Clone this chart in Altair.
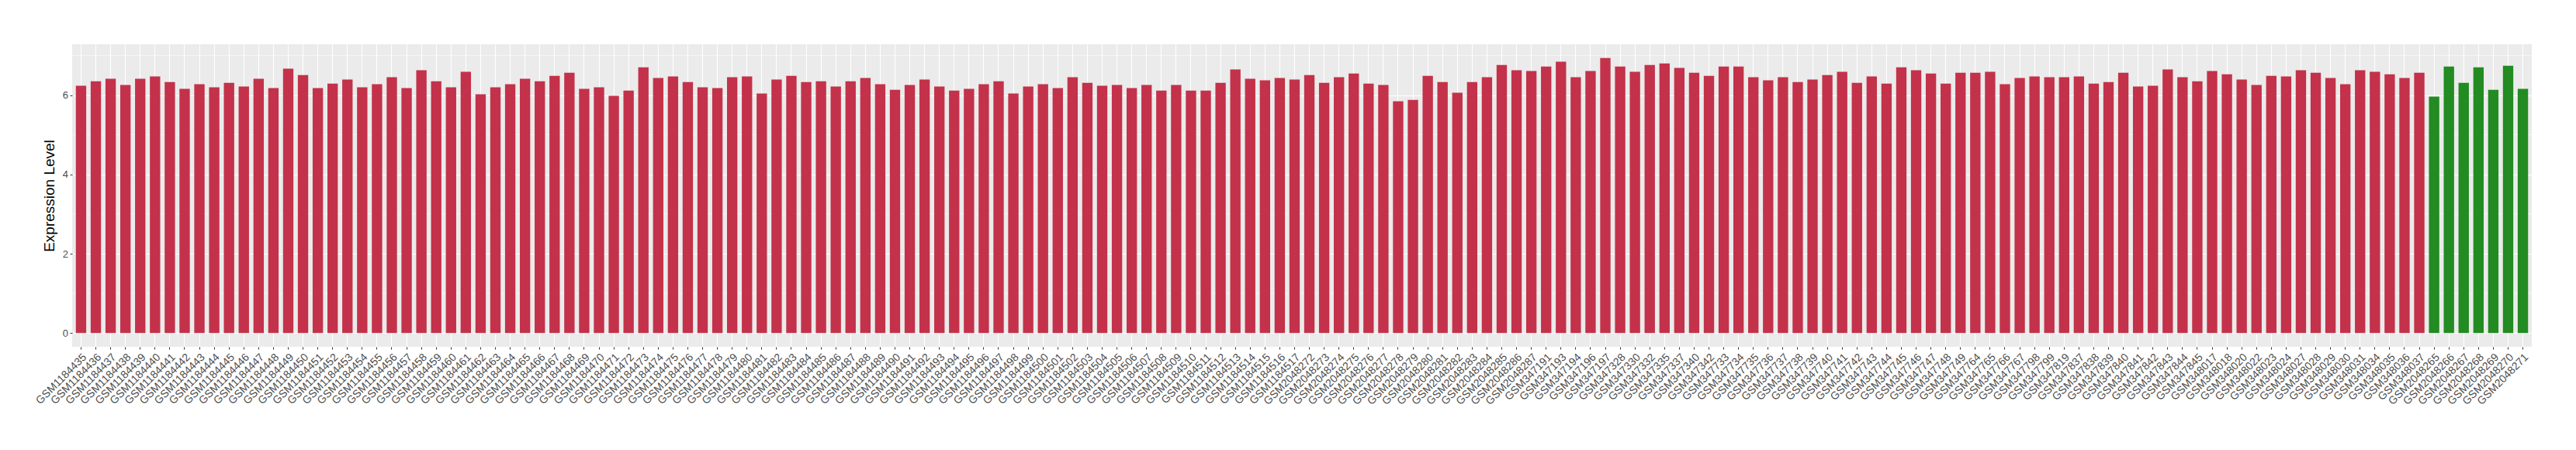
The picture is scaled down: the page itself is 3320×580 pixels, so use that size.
import altair as alt
import pandas as pd

# ---- categories (sample IDs) ----
samples_1 = [f"GSM{n}" for n in range(1184435, 1184518)]
samples_2 = [f"GSM{n}" for n in range(2048272, 2048288)]
samples_3 = [
    "GSM347191", "GSM347193", "GSM347194", "GSM347196", "GSM347197",
    "GSM347328", "GSM347330", "GSM347332", "GSM347335", "GSM347337",
    "GSM347340", "GSM347342", "GSM347733", "GSM347734", "GSM347735",
    "GSM347736", "GSM347737", "GSM347738", "GSM347739", "GSM347740",
    "GSM347741", "GSM347742", "GSM347743", "GSM347744", "GSM347745",
    "GSM347746", "GSM347747", "GSM347748", "GSM347749", "GSM347764",
    "GSM347765", "GSM347766", "GSM347767", "GSM347798", "GSM347799",
    "GSM347819", "GSM347837", "GSM347838", "GSM347839", "GSM347840",
    "GSM347841", "GSM347842", "GSM347843", "GSM347844", "GSM347845",
    "GSM348017", "GSM348018", "GSM348020", "GSM348022", "GSM348023",
    "GSM348024", "GSM348027", "GSM348028", "GSM348029", "GSM348030",
    "GSM348031", "GSM348034", "GSM348035", "GSM348036", "GSM348037",
]
samples_ctrl = [f"GSM{n}" for n in range(2048265, 2048272)]

# ---- values ----
values_1 = [
    6.235, 6.35, 6.41, 6.255, 6.41, 6.47, 6.33, 6.155, 6.275, 6.195,
    6.31, 6.215, 6.41, 6.175, 6.665, 6.505, 6.175, 6.29, 6.39, 6.195,
    6.275, 6.45, 6.175, 6.625, 6.35, 6.195, 6.585, 6.02, 6.195, 6.275,
    6.41, 6.35, 6.485, 6.565, 6.155, 6.195, 5.98, 6.115, 6.70, 6.43,
    6.47, 6.33, 6.195, 6.175, 6.45, 6.47, 6.04, 6.39, 6.485, 6.33,
    6.35, 6.215, 6.35, 6.43, 6.275, 6.135, 6.255, 6.39, 6.215, 6.115,
    6.155, 6.275, 6.35, 6.04, 6.215, 6.275, 6.175, 6.45, 6.31, 6.235,
    6.255, 6.175, 6.255, 6.115, 6.255, 6.115, 6.115, 6.31, 6.645, 6.41,
    6.37, 6.43, 6.39,
]
values_2 = [
    6.505, 6.31, 6.45, 6.545, 6.29, 6.255, 5.845, 5.88, 6.485, 6.33,
    6.06, 6.33, 6.45, 6.76, 6.625, 6.605,
]
values_3 = [
    6.72, 6.84, 6.45, 6.605, 6.935, 6.72, 6.585, 6.76, 6.80, 6.685,
    6.565, 6.485, 6.72, 6.72, 6.45, 6.37, 6.45, 6.33, 6.39, 6.505,
    6.585, 6.31, 6.47, 6.29, 6.70, 6.625, 6.545, 6.29, 6.565, 6.565,
    6.585, 6.275, 6.43, 6.47, 6.45, 6.45, 6.47, 6.29, 6.33, 6.565,
    6.215, 6.235, 6.645, 6.45, 6.35, 6.605, 6.525, 6.39, 6.255, 6.485,
    6.47, 6.625, 6.565, 6.43, 6.275, 6.625, 6.585, 6.525, 6.43, 6.565,
]
values_ctrl = [5.96, 6.72, 6.31, 6.70, 6.135, 6.74, 6.155]

group_names = ["Case", "Control"]
group_colors = ["#C3324A", "#228B22"]
major_breaks = [0, 2, 4, 6]
minor_breaks = [1, 3, 5, 7]

case_samples = samples_1 + samples_2 + samples_3
case_values = values_1 + values_2 + values_3
order = case_samples + samples_ctrl

df = pd.DataFrame({
    "Sample": case_samples + samples_ctrl,
    "Expression": case_values + values_ctrl,
    "Group": [group_names[0]] * len(case_samples) + [group_names[1]] * len(samples_ctrl),
})

vmax = max(df["Expression"])
pad = 0.05 * vmax
y_domain = [-pad, vmax + pad]
yscale = alt.Scale(domain=y_domain, nice=False, zero=False)

FONT = "Liberation Sans"
PLOT_W, PLOT_H = 3170, 390

y_axis = alt.Axis(
    values=major_breaks,
    grid=True,
    gridColor="white",
    gridWidth=1.1,
    tickSize=3,
    tickColor="#333333",
    labelColor="#4D4D4D",
    labelFontSize=13,
    labelFont=FONT,
    labelPadding=2.5,
    domain=False,
    title="Expression Level",
    titleFont=FONT,
    titleFontSize=19,
    titleFontWeight="normal",
    titleColor="black",
    titleAngle=-90,
    titleAlign="center",
    titleBaseline="bottom",
    titleX=-20,
    titleY=PLOT_H / 2,
)

minor = alt.Chart(pd.DataFrame({"v": minor_breaks})).mark_rule(
    color="white", strokeWidth=0.55
).encode(
    y=alt.Y("v:Q", scale=yscale, title="Expression Level", axis=y_axis)
)

bars = alt.Chart(df).mark_bar().encode(
    x=alt.X(
        "Sample:N",
        sort=order,
        scale=alt.Scale(paddingInner=0.3, paddingOuter=0.25),
        axis=alt.Axis(
            title=None,
            labelAngle=-45,
            labelAlign="right",
            labelBaseline="top",
            bandPosition=0.5,
            grid=True,
            gridColor="white",
            gridWidth=1.1,
            tickSize=3,
            tickColor="#333333",
            tickWidth=1,
            labelColor="#4D4D4D",
            labelFontSize=14,
            labelFont=FONT,
            labelPadding=3,
            labelOverlap=False,
            labelLimit=300,
            domain=False,
        ),
    ),
    y=alt.Y("Expression:Q", scale=yscale, title="Expression Level", axis=y_axis),
    y2=alt.datum(0),
    color=alt.Color(
        "Group:N",
        scale=alt.Scale(domain=group_names, range=group_colors),
        legend=None,
    ),
)

chart = alt.layer(minor, bars).properties(
    width=PLOT_W,
    height=PLOT_H,
    autosize=alt.AutoSizeParams(type="none"),
    padding={"left": 85, "top": 49, "right": 40, "bottom": 125},
    background="white",
).configure(
    font=FONT
).configure_view(
    fill="#EBEBEB",
    strokeWidth=0,
)

chart.save("out.html", embed_options={"renderer": "svg", "actions": False})
